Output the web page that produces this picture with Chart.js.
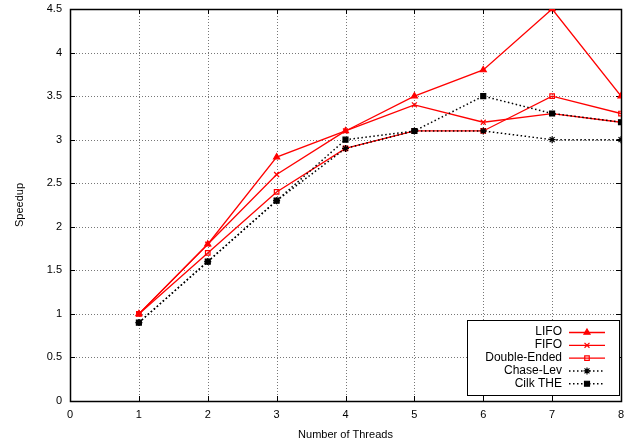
<!DOCTYPE html>
<html><head><meta charset="utf-8">
<script src="https://cdn.jsdelivr.net/npm/chart.js@4/dist/chart.umd.min.js"></script>
<style>html,body{margin:0;padding:0;background:#fff}#wrap{width:629px;height:442px}</style>
</head><body><div id="wrap"><canvas id="c" width="629" height="442"></canvas></div>
<script>
const threads = [1, 2, 3, 4, 5, 6, 7, 8];
const seriesNames = ['LIFO', 'FIFO', 'Double-Ended', 'Chase-Lev', 'Cilk THE'];
const lifo        = [1.0, 1.8, 2.8, 3.1, 3.5, 3.8, 4.5, 3.5];
const fifo        = [1.0, 1.8, 2.6, 3.1, 3.4, 3.2, 3.3, 3.2];
const doubleEnded = [1.0, 1.7, 2.4, 2.9, 3.1, 3.1, 3.5, 3.3];
const chaseLev    = [0.9, 1.6, 2.3, 2.9, 3.1, 3.1, 3.0, 3.0];
const cilkThe     = [0.9, 1.6, 2.3, 3.0, 3.1, 3.5, 3.3, 3.2];
const xTickValues = [0, 1, 2, 3, 4, 5, 6, 7, 8];
const yTickValues = [0, 0.5, 1, 1.5, 2, 2.5, 3, 3.5, 4, 4.5];
const xTitle = 'Number of Threads';
const yTitle = 'Speedup';

const FONT = 'Liberation Sans, Arial, Helvetica, sans-serif';
const values = [lifo, fifo, doubleEnded, chaseLev, cilkThe];
const styles = [
  {color:'#ff0000', point:'triangle', fill:'#ff0000', dash:[], width:1.3, r:3.5},
  {color:'#ff0000', point:'crossRot', fill:'#ff0000', dash:[], width:1.3, r:3.5},
  {color:'#ff0000', point:'rect', fill:'rgba(255,255,255,0)', dash:[], width:1.3, r:3.2},
  {color:'#000000', point:'star', fill:'#000000', dash:[1.5,2.5], width:1.5, r:3.5},
  {color:'#000000', point:'rect', fill:'#000000', dash:[1.5,2.5], width:1.5, r:3.5}
];

const datasets = seriesNames.map((name, i) => ({
  label: name,
  data: threads.map((t, j) => ({x: t, y: values[i][j]})),
  borderColor: styles[i].color,
  backgroundColor: styles[i].fill,
  borderWidth: styles[i].width,
  borderDash: styles[i].dash,
  pointStyle: styles[i].point,
  pointRadius: styles[i].r,
  pointBorderWidth: 1.2,
  pointBorderColor: styles[i].color,
  pointBackgroundColor: styles[i].fill,
  tension: 0,
  fill: false,
  order: 10 - i
}));

const framePlugin = {
  id: 'frame',
  beforeDatasetsDraw(chart) {
    const {ctx, chartArea: a, scales} = chart;
    ctx.save();
    ctx.strokeStyle = '#777';
    ctx.lineWidth = 1;
    ctx.setLineDash([1, 2]);
    ctx.beginPath();
    xTickValues.forEach(v => {
      const px = Math.round(scales.x.getPixelForValue(v)) + 0.5;
      ctx.moveTo(px, a.bottom); ctx.lineTo(px, a.top);
    });
    yTickValues.forEach(v => {
      const py = Math.round(scales.y.getPixelForValue(v)) + 0.5;
      ctx.moveTo(a.left, py); ctx.lineTo(a.right, py);
    });
    ctx.stroke();
    ctx.strokeStyle = '#000';
    ctx.setLineDash([]);
    const tl = 5;
    ctx.beginPath();
    xTickValues.forEach(v => {
      const px = Math.round(scales.x.getPixelForValue(v)) + 0.5;
      ctx.moveTo(px, a.bottom); ctx.lineTo(px, a.bottom - tl);
      ctx.moveTo(px, a.top); ctx.lineTo(px, a.top + tl);
    });
    yTickValues.forEach(v => {
      const py = Math.round(scales.y.getPixelForValue(v)) + 0.5;
      ctx.moveTo(a.left, py); ctx.lineTo(a.left + tl, py);
      ctx.moveTo(a.right, py); ctx.lineTo(a.right - tl, py);
    });
    ctx.stroke();
    ctx.lineWidth = 1.5;
    ctx.strokeRect(Math.round(a.left) + 0.5, Math.round(a.top) + 0.5, Math.round(a.right - a.left), Math.round(a.bottom - a.top));
    ctx.restore();
  }
};

const legendPlugin = {
  id: 'customLegend',
  afterDraw(chart) {
    const {ctx} = chart;
    const x0 = 467, y0 = 320, w = 152, h = 75;
    ctx.save();
    ctx.fillStyle = '#fff';
    ctx.fillRect(x0, y0, w, h);
    ctx.strokeStyle = '#000';
    ctx.lineWidth = 1;
    ctx.setLineDash([]);
    ctx.strokeRect(x0 + 0.5, y0 + 0.5, w, h);
    ctx.font = '12px ' + FONT;
    ctx.textAlign = 'right';
    ctx.textBaseline = 'middle';
    const rowH = 12.8;
    chart.data.datasets.forEach((ds, i) => {
      const y = y0 + 12 + i * rowH;
      ctx.fillStyle = '#000';
      ctx.fillText(ds.label, 562, y);
      ctx.strokeStyle = ds.borderColor;
      ctx.lineWidth = ds.borderWidth;
      ctx.setLineDash(ds.borderDash);
      ctx.beginPath();
      ctx.moveTo(569, y + 0.5); ctx.lineTo(605, y + 0.5);
      ctx.stroke();
      ctx.setLineDash([]);
      ctx.lineWidth = 1.2;
      ctx.fillStyle = ds.pointBackgroundColor;
      ctx.strokeStyle = ds.pointBorderColor;
      Chart.helpers.drawPoint(ctx, {pointStyle: ds.pointStyle, radius: ds.pointRadius, borderWidth: 1.2, rotation: 0}, 587, y + 0.5);
    });
    ctx.restore();
  }
};

new Chart(document.getElementById('c'), {
  type: 'line',
  data: {datasets},
  options: {
    responsive: false,
    animation: false,
    devicePixelRatio: 1,
    layout: {padding: {top: 9, right: 8, left: 0, bottom: 0}},
    plugins: {legend: {display: false}, tooltip: {enabled: false}},
    scales: {
      x: {
        type: 'linear', min: 0, max: 8,
        afterFit(s) { s.height = 41; s.paddingLeft = 0; s.paddingRight = 0; },
        afterBuildTicks(s) { s.ticks = xTickValues.map(v => ({value: v})); },
        grid: {display: false, drawTicks: false},
        border: {display: false},
        ticks: {color: '#000', font: {family: FONT, size: 11}, padding: 7, maxRotation: 0},
        title: {display: true, text: xTitle, color: '#000', font: {family: FONT, size: 11}, padding: {top: 4, bottom: 0}}
      },
      y: {
        type: 'linear', min: 0, max: 4.5,
        afterFit(s) { s.width = 70; s.paddingTop = 0; s.paddingBottom = 0; },
        afterBuildTicks(s) { s.ticks = yTickValues.map(v => ({value: v})); },
        grid: {display: false, drawTicks: false},
        border: {display: false},
        ticks: {color: '#000', font: {family: FONT, size: 11}, padding: 8, callback: v => String(v)},
        title: {display: true, text: yTitle, color: '#000', font: {family: FONT, size: 11}, padding: {top: 13, bottom: 0}}
      }
    }
  },
  plugins: [framePlugin, legendPlugin]
});
</script>
</body></html>
